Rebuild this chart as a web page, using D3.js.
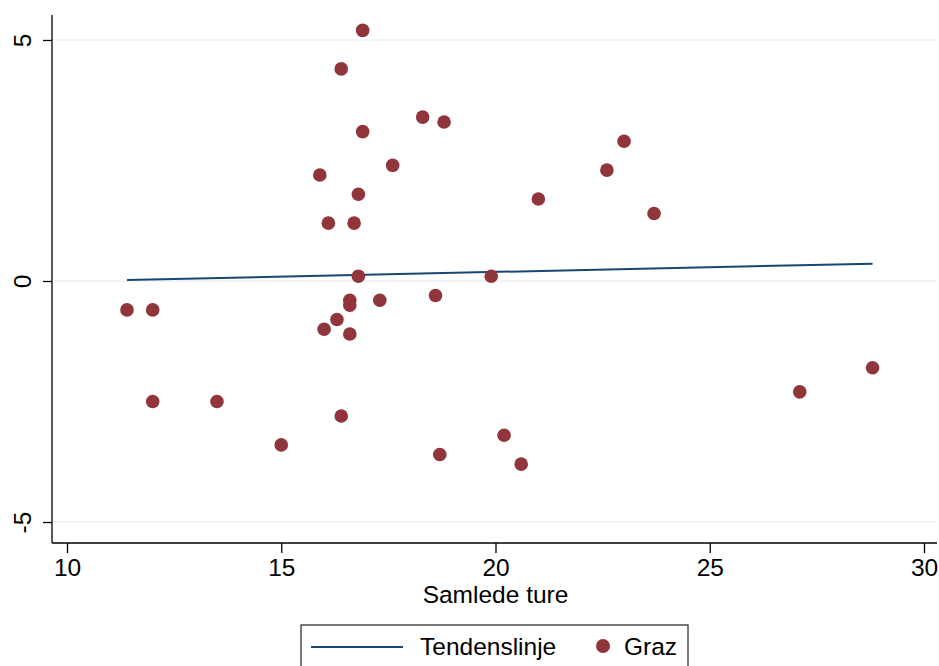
<!DOCTYPE html>
<html>
<head>
<meta charset="utf-8">
<script src="https://cdn.jsdelivr.net/npm/d3@7"></script>
<style>
  html, body { margin: 0; padding: 0; background: #fff; }
  svg { display: block; font-family: "Liberation Sans", Arial, sans-serif; }
</style>
</head>
<body>
<svg id="chart" width="939" height="666"></svg>
<script>
// Samlede ture (x) versus residual (y) for Graz
const samledeTure = [11.4, 12.0, 12.0, 13.5, 15.0, 16.9, 16.4, 16.9, 18.3, 18.8,
                     17.6, 15.9, 16.8, 16.1, 16.7, 16.8, 19.9, 21.0, 22.6, 23.0,
                     23.7, 16.6, 16.6, 17.3, 18.6, 16.3, 16.0, 16.6, 16.4, 18.7,
                     20.2, 20.6, 27.1, 28.8];
const grazValues = [-0.6, -0.6, -2.5, -2.5, -3.4, 5.2, 4.4, 3.1, 3.4, 3.3,
                    2.4, 2.2, 1.8, 1.2, 1.2, 0.1, 0.1, 1.7, 2.3, 2.9,
                    1.4, -0.4, -0.5, -0.4, -0.3, -0.8, -1.0, -1.1, -2.8, -3.6,
                    -3.2, -3.8, -2.3, -1.8];
// Fitted trend line endpoints
const trendX = [11.4, 28.8];
const trendY = [0.02, 0.36];
const xTicks = [10, 15, 20, 25, 30];
const yTicks = [-5, 0, 5];
const legendLabels = ["Tendenslinje", "Graz"];

const navy = "#1a476f";
const maroon = "#90353b";
const fontSize = 24.5;

const svg = d3.select("#chart");
const plotLeft = 52, plotRight = 937, plotTop = 15, plotBottom = 543;

const x = d3.scaleLinear().domain([10, 30]).range([67, 924]);
const y = d3.scaleLinear().domain([-5, 5]).range([522, 40]);

// horizontal gridlines
svg.append("g").selectAll("line").data(yTicks).join("line")
  .attr("x1", plotLeft).attr("x2", plotRight)
  .attr("y1", d => y(d)).attr("y2", d => y(d))
  .attr("stroke", "#eaf2f3").attr("stroke-width", 1.5);

// y axis (plain hyphen for negatives)
const yAxis = svg.append("g").attr("transform", `translate(${plotLeft},0)`)
  .call(d3.axisLeft(y).tickValues(yTicks).tickSize(9).tickFormat(d => String(d)));
yAxis.select(".domain").attr("d", `M0,${plotTop}V${plotBottom}`).attr("stroke", "#000").attr("stroke-width", 1.3);
yAxis.selectAll(".tick line").attr("stroke", "#000").attr("stroke-width", 1.3);
yAxis.selectAll(".tick text")
  .attr("x", null).attr("dy", null)
  .attr("text-anchor", "middle")
  .attr("transform", "translate(-21,0) rotate(-90)")
  .attr("font-size", fontSize).attr("fill", "#000")
  .attr("font-family", "Liberation Sans, Arial, sans-serif");

// x axis
const xAxis = svg.append("g").attr("transform", `translate(0,${plotBottom})`)
  .call(d3.axisBottom(x).tickValues(xTicks).tickSize(10).tickFormat(d => String(d)));
xAxis.select(".domain").attr("d", `M${plotLeft},0H${plotRight}`).attr("stroke", "#000").attr("stroke-width", 1.3);
xAxis.selectAll(".tick line").attr("stroke", "#000").attr("stroke-width", 1.3);
xAxis.selectAll(".tick text")
  .attr("y", 33).attr("dy", null)
  .attr("font-size", fontSize).attr("fill", "#000")
  .attr("font-family", "Liberation Sans, Arial, sans-serif");

// x axis title
svg.append("text")
  .attr("x", x(20)).attr("y", 603)
  .attr("text-anchor", "middle")
  .attr("font-size", fontSize).attr("fill", "#000")
  .text("Samlede ture");

// trend line
svg.append("line")
  .attr("x1", x(trendX[0])).attr("y1", y(trendY[0]))
  .attr("x2", x(trendX[1])).attr("y2", y(trendY[1]))
  .attr("stroke", navy).attr("stroke-width", 2);

// points
svg.append("g").selectAll("circle").data(samledeTure.map((v, i) => [v, grazValues[i]])).join("circle")
  .attr("cx", d => x(d[0])).attr("cy", d => y(d[1]))
  .attr("r", 6.8).attr("fill", maroon);

// legend
const lg = svg.append("g");
lg.append("rect")
  .attr("x", 301).attr("y", 625).attr("width", 387).attr("height", 60)
  .attr("fill", "#fff").attr("stroke", "#333").attr("stroke-width", 1.3);
lg.append("line")
  .attr("x1", 311).attr("x2", 403).attr("y1", 647).attr("y2", 647)
  .attr("stroke", navy).attr("stroke-width", 2);
lg.append("text")
  .attr("x", 420).attr("y", 655)
  .attr("font-size", fontSize).attr("fill", "#000")
  .text(legendLabels[0]);
lg.append("circle")
  .attr("cx", 603).attr("cy", 646).attr("r", 7).attr("fill", maroon);
lg.append("text")
  .attr("x", 624).attr("y", 655)
  .attr("font-size", fontSize).attr("fill", "#000")
  .text(legendLabels[1]);
</script>
</body>
</html>
